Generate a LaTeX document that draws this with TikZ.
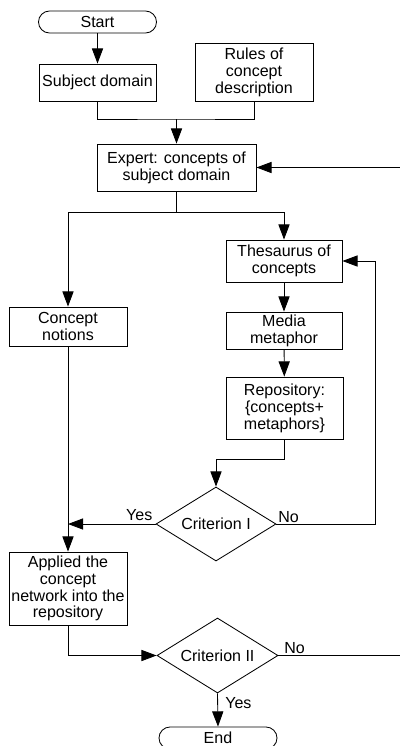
\documentclass[tikz,border=0pt]{standalone}
\usepackage{fontspec}
\setmainfont{Liberation Sans}
\usepackage{tikz}
\usetikzlibrary{arrows.meta}
\usetikzlibrary{shapes.geometric}

\begin{document}
\begin{tikzpicture}[x=0.025cm, y=-0.025cm, line width=0.6pt,
    font=\fontsize{11.4}{12}\selectfont,
    box/.style={draw, align=center, inner sep=1pt},
    term/.style={draw, rounded corners=2.75mm, minimum width=2.95cm, minimum height=0.55cm, inner sep=0pt},
    crit/.style={draw, diamond, aspect=1.6, inner sep=0pt},
    flow/.style={-{Triangle[length=3.8mm,width=2.8mm]}}]
    \useasboundingbox (0,0) rectangle (400,746);
    \node[term] (start) at (97.5,22) {Start};
    \node[box, minimum width=2.925cm, minimum height=0.925cm] (subj) at (97.5,82.5) {Subject domain};
    \node[box, minimum width=2.95cm, minimum height=1.45cm] (rules) at (254,72) {Rules of\\concept\\description};
    \node[box, minimum width=3.975cm, minimum height=1.175cm] (expert) at (176.5,167.5) {Expert: concepts of\\subject domain};
    \node[box, minimum width=2.9cm, minimum height=1.05cm] (thes) at (284,261) {Thesaurus of\\concepts};
    \node[box, minimum width=2.95cm, minimum height=0.975cm] (notions) at (68,326.5) {Concept\\notions};
    \node[box, minimum width=2.9cm, minimum height=0.925cm] (media) at (284,330.5) {Media\\metaphor};
    \node[box, minimum width=2.925cm, minimum height=1.55cm] (repo) at (284.5,408) {Repository:\\\{concepts+\\metaphors\}};
    \node[crit, minimum width=3cm, minimum height=1.85cm] (crit1) at (216,524) {Criterion I};
    \node[box, minimum width=2.95cm, minimum height=1.825cm] (applied) at (68,588.5) {Applied the\\concept\\network into the\\repository};
    \node[crit, minimum width=3.025cm, minimum height=1.875cm] (crit2) at (217.5,655.5) {Criterion II};
    \node[term] (end) at (218,738) {End};

    % top part
    \coordinate (join) at (176.5,119);
    \coordinate (split) at (176.5,212);
    \coordinate (back) at (400,167.5);
    \draw[flow] (start) -- (subj);
    \draw (subj.south) |- (join) -| (rules.south);
    \draw[flow] (join) -- (expert);
    \draw[flow] (back) -- (expert.east);
    \draw (expert.south) -- (split);
    \draw[flow] (split) -| (notions.north);
    \draw[flow] (split) -| (thes.north);

    % right column
    \draw[flow] (thes) -- (media);
    \draw[flow] (media) -- (repo);
    \draw[flow] (repo.south) -- ++(0,20) -| (crit1.north);
    \draw[flow] (crit1.east) -- ++(99,0) |- (thes.east);
    \node[anchor=south west, inner sep=1pt] (no1) at (crit1.east) {No};
    \draw[flow] (crit1.west) -- (notions.south |- crit1.west);
    \node[anchor=south east, inner sep=2pt] (yes1) at (crit1.west) {Yes};

    % bottom part
    \draw[flow] (notions) -- (applied);
    \draw[flow] (applied.south) |- (crit2.west);
    \coordinate (out) at (400,655.5);
    \draw (crit2.east) -- (out);
    \node[anchor=south west, inner sep=1pt] (no2) at ([xshift=0.1cm]crit2.east) {No};
    \draw[flow] (crit2.south) -- (end.north);
    \node[anchor=north west, inner sep=1pt] (yes2) at ([xshift=0.15cm,yshift=-0.05cm]crit2.south) {Yes};
\end{tikzpicture}
\end{document}
